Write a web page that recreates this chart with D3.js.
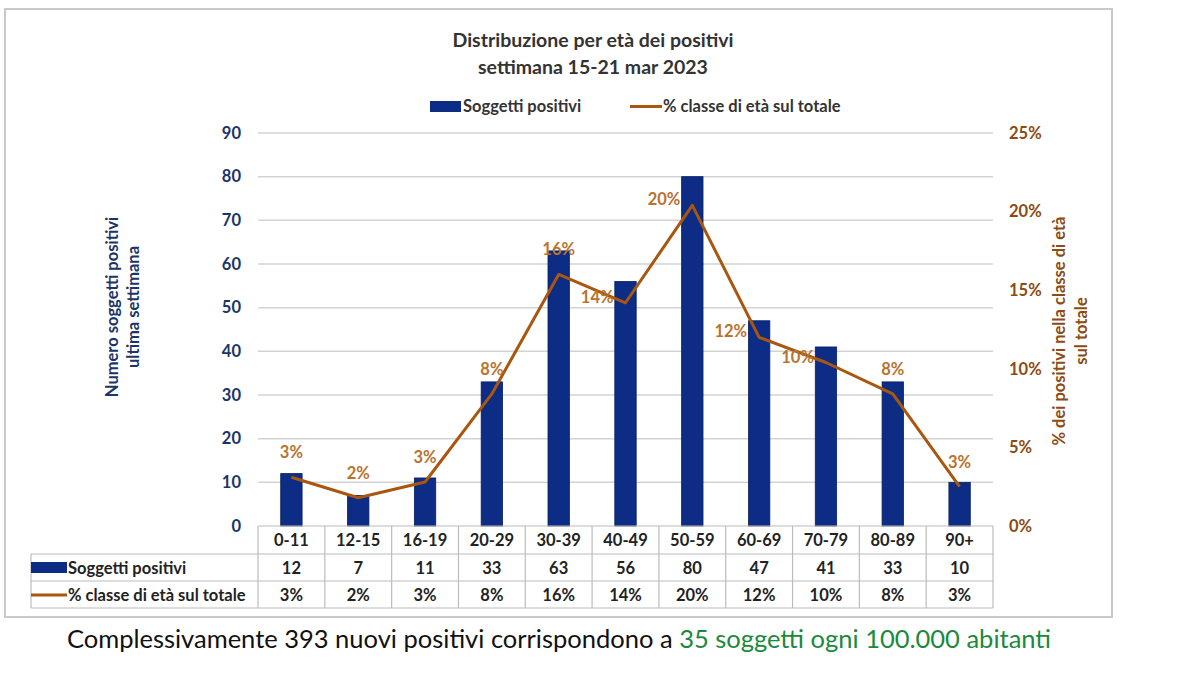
<!DOCTYPE html>
<html>
<head>
<meta charset="utf-8">
<script src="https://cdn.jsdelivr.net/npm/d3@7"></script>
<style>
  body { margin: 0; background: #fff; }
  text { font-family: Lato, "Open Sans", sans-serif; }
</style>
</head>
<body>
<svg id="chart" width="1200" height="675"></svg>
<script>
// Data
const categories = ["0-11", "12-15", "16-19", "20-29", "30-39", "40-49", "50-59", "60-69", "70-79", "80-89", "90+"];
const positives = [12, 7, 11, 33, 63, 56, 80, 47, 41, 33, 10];
const pctValues = [3.1, 1.8, 2.8, 8.4, 16.0, 14.2, 20.4, 12.0, 10.4, 8.4, 2.5];
const pctLabels = ["3%", "2%", "3%", "8%", "16%", "14%", "20%", "12%", "10%", "8%", "3%"];
const leftTicks = [0, 10, 20, 30, 40, 50, 60, 70, 80, 90];
const rightTicks = [0, 5, 10, 15, 20, 25];
// where each point label sits relative to its point
const labelSide = ["top", "top", "top", "top", "top", "left", "left", "left", "left", "top", "top"];

const barColor = "#0c2c86";
const lineColor = "#a9560f";
const pctColor = "#b8732e";
const leftAxisColor = "#1c3567";
const rightAxisColor = "#8c4b12";
const gridColor = "#d3d3d3";
const fs = 16.5;

const svg = d3.select("#chart");

// frame
svg.append("rect")
    .attr("x", 5).attr("y", 9)
    .attr("width", 1107).attr("height", 608)
    .attr("fill", "none")
    .attr("stroke", "#c9c9c9")
    .attr("stroke-width", 2);

const plot = {left: 258, right: 993, top: 133, bottom: 526};

const x = d3.scaleBand().domain(categories).range([plot.left, plot.right]);
const y = d3.scaleLinear().domain([0, 90]).range([plot.bottom, plot.top]);
const y2 = d3.scaleLinear().domain([0, 25]).range([plot.bottom, plot.top]);

// Title
svg.append("text")
    .attr("x", 593).attr("y", 47)
    .attr("text-anchor", "middle")
    .attr("font-size", 19.5).attr("font-weight", "bold").attr("fill", "#333")
    .text("Distribuzione per età dei positivi");
svg.append("text")
    .attr("x", 593).attr("y", 74)
    .attr("text-anchor", "middle")
    .attr("font-size", 19.5).attr("font-weight", "bold").attr("fill", "#333")
    .text("settimana 15-21 mar 2023");

// Legend
const legend = svg.append("g").attr("font-size", fs).attr("font-weight", "bold").attr("fill", "#333");
legend.append("rect").attr("x", 430).attr("y", 101).attr("width", 31).attr("height", 11).attr("fill", barColor);
legend.append("text").attr("x", 463).attr("y", 112).text("Soggetti positivi");
legend.append("line").attr("x1", 630).attr("x2", 662).attr("y1", 106.5).attr("y2", 106.5)
    .attr("stroke", lineColor).attr("stroke-width", 3);
legend.append("text").attr("x", 663).attr("y", 112).text("% classe di età sul totale");

// Grid
svg.append("g")
    .selectAll("line")
    .data(leftTicks.slice(1))
    .join("line")
    .attr("x1", plot.left).attr("x2", plot.right)
    .attr("y1", d => y(d)).attr("y2", d => y(d))
    .attr("stroke", gridColor).attr("stroke-width", 1.5);

// Left axis
const leftAxis = svg.append("g")
    .attr("transform", `translate(${plot.left},0)`)
    .call(d3.axisLeft(y).tickValues(leftTicks).tickSize(0).tickPadding(17));
leftAxis.select(".domain").remove();
leftAxis.selectAll("text")
    .attr("font-family", "Lato, sans-serif")
    .attr("font-size", fs).attr("font-weight", "bold")
    .attr("fill", leftAxisColor);

// Right axis
const rightAxis = svg.append("g")
    .attr("transform", `translate(${plot.right},0)`)
    .call(d3.axisRight(y2).tickValues(rightTicks).tickSize(0).tickPadding(16).tickFormat(d => d + "%"));
rightAxis.select(".domain").remove();
rightAxis.selectAll("text")
    .attr("font-family", "Lato, sans-serif")
    .attr("font-size", fs).attr("font-weight", "bold")
    .attr("fill", rightAxisColor);

// Axis titles
const leftTitle = svg.append("text")
    .attr("transform", "translate(118,307) rotate(-90)")
    .attr("text-anchor", "middle")
    .attr("font-size", fs).attr("font-weight", "bold").attr("fill", leftAxisColor);
leftTitle.append("tspan").attr("x", 0).attr("dy", 0).text("Numero soggetti positivi");
leftTitle.append("tspan").attr("x", 0).attr("dy", 21).text("ultima settimana");

const rightTitle = svg.append("text")
    .attr("transform", "translate(1065,331) rotate(-90)")
    .attr("text-anchor", "middle")
    .attr("font-size", fs).attr("font-weight", "bold").attr("fill", rightAxisColor);
rightTitle.append("tspan").attr("x", 0).attr("dy", 0).text("% dei positivi nella classe di età");
rightTitle.append("tspan").attr("x", 0).attr("dy", 22).text("sul totale");

// Bars
const barW = x.bandwidth() * 0.32;
svg.append("g")
    .selectAll("rect")
    .data(positives)
    .join("rect")
    .attr("x", (d, i) => x(categories[i]) + (x.bandwidth() - barW) / 2)
    .attr("y", d => y(d))
    .attr("width", barW)
    .attr("height", d => y(0) - y(d))
    .attr("fill", barColor)
    .attr("stroke", "#08205e")
    .attr("stroke-width", 0.8);

// Line
const cx = i => x(categories[i]) + x.bandwidth() / 2;
const line = d3.line()
    .x((d, i) => cx(i))
    .y(d => y2(d));
svg.append("path")
    .datum(pctValues)
    .attr("d", line)
    .attr("fill", "none")
    .attr("stroke", lineColor)
    .attr("stroke-width", 3)
    .attr("stroke-linejoin", "round");

// Point labels
svg.append("g")
    .selectAll("text")
    .data(pctLabels)
    .join("text")
    .attr("x", (d, i) => labelSide[i] === "left" ? cx(i) - 12 : cx(i))
    .attr("y", (d, i) => labelSide[i] === "left" ? y2(pctValues[i]) : y2(pctValues[i]) - 19)
    .attr("text-anchor", (d, i) => labelSide[i] === "left" ? "end" : "middle")
    .attr("font-size", fs).attr("font-weight", "bold")
    .attr("fill", pctColor)
    .text(d => d);

// Data table
const rowY = [526, 554, 581, 608];
const tableLeft = 31;
const table = svg.append("g");
const tblStroke = "#bcbcbc";

// horizontal lines
table.append("line").attr("x1", plot.left).attr("x2", plot.right).attr("y1", rowY[0]).attr("y2", rowY[0])
    .attr("stroke", tblStroke).attr("stroke-width", 1.2);
table.selectAll("line.h")
    .data(rowY.slice(1))
    .join("line")
    .attr("class", "h")
    .attr("x1", tableLeft).attr("x2", plot.right)
    .attr("y1", d => d).attr("y2", d => d)
    .attr("stroke", tblStroke).attr("stroke-width", 1.2);

// vertical lines
const colEdges = categories.map(c => x(c)).concat([plot.right]);
table.selectAll("line.v")
    .data(colEdges)
    .join("line")
    .attr("class", "v")
    .attr("x1", d => d).attr("x2", d => d)
    .attr("y1", rowY[0]).attr("y2", rowY[3])
    .attr("stroke", tblStroke).attr("stroke-width", 1.2);
table.append("line")
    .attr("x1", tableLeft).attr("x2", tableLeft)
    .attr("y1", rowY[1]).attr("y2", rowY[3])
    .attr("stroke", tblStroke).attr("stroke-width", 1.2);

const cellText = (row, values) => table.append("g")
    .selectAll("text")
    .data(values)
    .join("text")
    .attr("x", (d, i) => cx(i))
    .attr("y", (rowY[row] + rowY[row + 1]) / 2 + 6)
    .attr("text-anchor", "middle")
    .attr("font-size", fs).attr("font-weight", "bold").attr("fill", "#222")
    .text(d => d);
cellText(0, categories);
cellText(1, positives);
cellText(2, pctLabels);

// table row legends
table.append("rect").attr("x", tableLeft).attr("y", 562).attr("width", 36).attr("height", 11).attr("fill", barColor);
table.append("text").attr("x", 68).attr("y", 574)
    .attr("font-size", fs).attr("font-weight", "bold").attr("fill", "#222")
    .text("Soggetti positivi");
table.append("line").attr("x1", tableLeft).attr("x2", 67).attr("y1", 595).attr("y2", 595)
    .attr("stroke", lineColor).attr("stroke-width", 3);
table.append("text").attr("x", 68).attr("y", 601)
    .attr("font-size", fs).attr("font-weight", "bold").attr("fill", "#222")
    .text("% classe di età sul totale");

// Footer
const footer = svg.append("text")
    .attr("x", 559).attr("y", 648)
    .attr("text-anchor", "middle")
    .attr("font-size", 25.5);
footer.append("tspan").attr("fill", "#111").text("Complessivamente 393 nuovi positivi corrispondono a ");
footer.append("tspan").attr("fill", "#1a8a3c").text("35 soggetti ogni 100.000 abitanti");
</script>
</body>
</html>
